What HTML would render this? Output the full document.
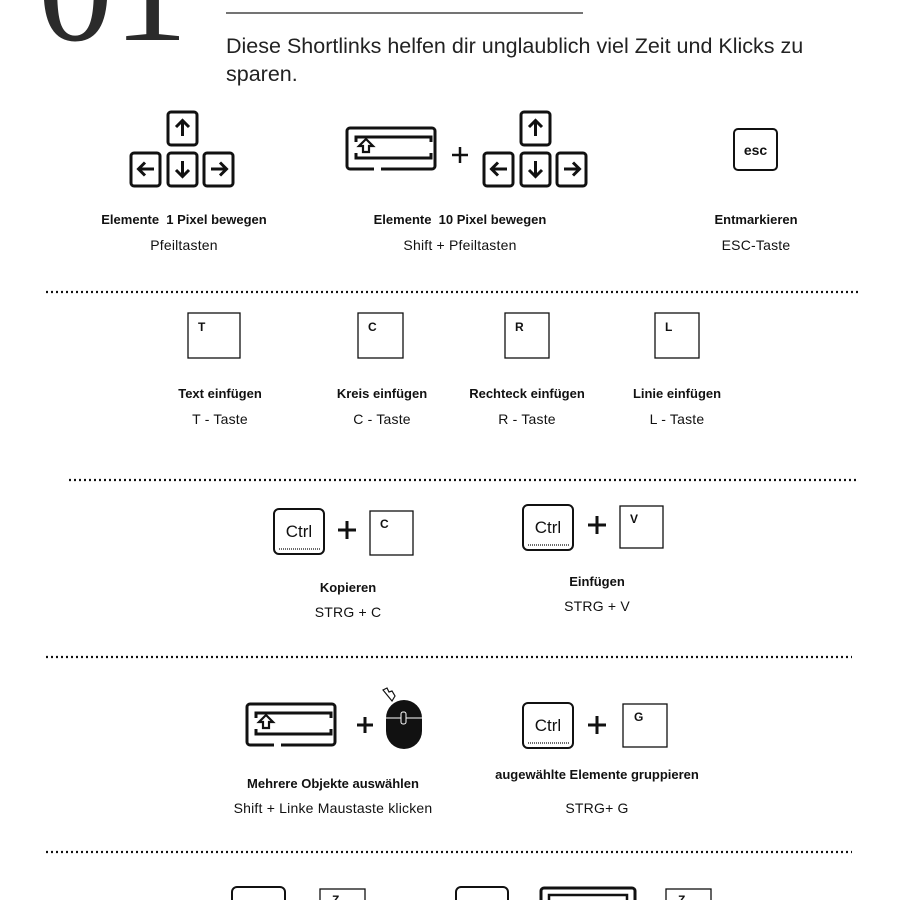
<!DOCTYPE html>
<html><head><meta charset="utf-8"><style>
html,body{margin:0;padding:0;background:#fff;}
svg{display:block;}
text{font-family:"Liberation Sans",sans-serif;fill:#111;}
.b{font-weight:bold;font-size:13px;}
.n{font-size:14px;letter-spacing:0.2px;}
.k{fill:none;stroke:#111;stroke-width:3;}
.t{fill:#fff;stroke:#111;stroke-width:1.3;}
.dot{stroke:#111;stroke-width:2.2;stroke-dasharray:2 3;}
</style></head><body>
<svg width="900" height="900" viewBox="0 0 900 900" xmlns="http://www.w3.org/2000/svg">
<text x="38" y="40" style="font-family:'Liberation Serif',serif;font-size:150px;fill:#2b2b2b;">01</text>
<line x1="226" y1="13" x2="583" y2="13" stroke="#222" stroke-width="1.2"/>
<text x="226" y="53" style="font-size:21.5px;fill:#222;">Diese Shortlinks helfen dir unglaublich viel Zeit und Klicks zu</text>
<text x="226" y="81" style="font-size:21.5px;fill:#222;">sparen.</text>

<g id="arr">
<rect class="k" x="168" y="112" width="29" height="33" rx="3"/>
<path d="M182.5 136 V121 M176 127 L182.5 120.5 L189 127" class="k" stroke-width="2.5"/>
<rect class="k" x="131" y="153" width="29" height="33" rx="3"/>
<path d="M154 169 H139 M145 162.5 L138.5 169 L145 175.5" class="k" stroke-width="2.5"/>
<rect class="k" x="168" y="153" width="29" height="33" rx="3"/>
<path d="M182.5 161 V176 M176 170 L182.5 176.5 L189 170" class="k" stroke-width="2.5"/>
<rect class="k" x="204" y="153" width="29" height="33" rx="3"/>
<path d="M211 169 H226 M220 162.5 L226.5 169 L220 175.5" class="k" stroke-width="2.5"/>
</g>
<use href="#arr" x="353" y="0"/>
<text class="b" x="184" y="224" text-anchor="middle" xml:space="preserve">Elemente  1 Pixel bewegen</text>
<text class="n" x="184" y="250" text-anchor="middle">Pfeiltasten</text>

<g id="shift">
<path d="M374 169 H350 a3 3 0 0 1 -3 -3 V131 a3 3 0 0 1 3 -3 H432 a3 3 0 0 1 3 3 V166 a3 3 0 0 1 -3 3 H381" class="k"/>
<path d="M356 142 V137 H431 V142 M356 153 V158 H431 V153" class="k" stroke-width="2.5"/>
<path d="M363 152 V146 H359 L366 139 L373 146 H369 V152 Z" fill="none" stroke="#111" stroke-width="2.2"/>
</g>
<line x1="460" y1="147" x2="460" y2="163" stroke="#111" stroke-width="2.5"/>
<line x1="452" y1="155" x2="468" y2="155" stroke="#111" stroke-width="2.5"/>
<text class="b" x="460" y="224" text-anchor="middle" xml:space="preserve">Elemente  10 Pixel bewegen</text>
<text class="n" x="460" y="250" text-anchor="middle">Shift + Pfeiltasten</text>

<rect x="734" y="129" width="43" height="41" rx="4" fill="none" stroke="#111" stroke-width="2"/>
<text x="755.5" y="155" text-anchor="middle" style="font-weight:bold;font-size:14px;">esc</text>
<text class="b" x="756" y="224" text-anchor="middle">Entmarkieren</text>
<text class="n" x="756" y="250" text-anchor="middle">ESC-Taste</text>

<line class="dot" x1="46" y1="292" x2="858" y2="292"/>

<rect class="t" x="188" y="313" width="52" height="45"/>
<text x="198" y="331" style="font-weight:bold;font-size:12px;">T</text>
<rect class="t" x="358" y="313" width="45" height="45"/>
<text x="368" y="331" style="font-weight:bold;font-size:12px;">C</text>
<rect class="t" x="505" y="313" width="44" height="45"/>
<text x="515" y="331" style="font-weight:bold;font-size:12px;">R</text>
<rect class="t" x="655" y="313" width="44" height="45"/>
<text x="665" y="331" style="font-weight:bold;font-size:12px;">L</text>
<text class="b" x="220" y="398" text-anchor="middle">Text einfügen</text>
<text class="n" x="220" y="424" text-anchor="middle">T - Taste</text>
<text class="b" x="382" y="398" text-anchor="middle">Kreis einfügen</text>
<text class="n" x="382" y="424" text-anchor="middle">C - Taste</text>
<text class="b" x="527" y="398" text-anchor="middle">Rechteck einfügen</text>
<text class="n" x="527" y="424" text-anchor="middle">R - Taste</text>
<text class="b" x="677" y="398" text-anchor="middle">Linie einfügen</text>
<text class="n" x="677" y="424" text-anchor="middle">L - Taste</text>

<line class="dot" x1="69" y1="480" x2="858" y2="480"/>

<g id="ctrl">
<rect x="274" y="509" width="50" height="45" rx="5" fill="none" stroke="#111" stroke-width="2"/>
<text x="299" y="537" text-anchor="middle" style="font-size:17px;">Ctrl</text>
<line x1="279" y1="549" x2="320" y2="549" stroke="#111" stroke-width="1.3" stroke-dasharray="1 1"/>
</g>
<line x1="347" y1="521" x2="347" y2="539" stroke="#111" stroke-width="3"/>
<line x1="338" y1="530" x2="356" y2="530" stroke="#111" stroke-width="3"/>
<rect class="t" x="370" y="511" width="43" height="44"/>
<text x="380" y="528" style="font-weight:bold;font-size:12px;">C</text>
<text class="b" x="348" y="592" text-anchor="middle">Kopieren</text>
<text class="n" x="348" y="617" text-anchor="middle">STRG + C</text>

<use href="#ctrl" x="249" y="-4"/>
<line x1="597" y1="516" x2="597" y2="534" stroke="#111" stroke-width="3"/>
<line x1="588" y1="525" x2="606" y2="525" stroke="#111" stroke-width="3"/>
<rect class="t" x="620" y="506" width="43" height="42"/>
<text x="630" y="523" style="font-weight:bold;font-size:12px;">V</text>
<text class="b" x="597" y="586" text-anchor="middle">Einfügen</text>
<text class="n" x="597" y="611" text-anchor="middle">STRG + V</text>

<line class="dot" x1="46" y1="657" x2="852" y2="657"/>

<use href="#shift" x="-100" y="576"/>
<line x1="365" y1="717" x2="365" y2="733" stroke="#111" stroke-width="3"/>
<line x1="357" y1="725" x2="373" y2="725" stroke="#111" stroke-width="3"/>
<rect x="386" y="700" width="36" height="49" rx="18" fill="#111"/>
<line x1="386" y1="718" x2="422" y2="718" stroke="#fff" stroke-width="1"/>
<rect x="401" y="712" width="5" height="12" rx="2" fill="#111" stroke="#fff" stroke-width="1"/>
<path d="M383 690 l4 -2 l2 4 l3 -1 l3 5 l-3 5 z" fill="none" stroke="#111" stroke-width="1.2"/>
<text class="b" x="333" y="788" text-anchor="middle">Mehrere Objekte auswählen</text>
<text class="n" x="333" y="813" text-anchor="middle">Shift + Linke Maustaste klicken</text>

<use href="#ctrl" x="249" y="194"/>
<line x1="597" y1="716" x2="597" y2="734" stroke="#111" stroke-width="3"/>
<line x1="588" y1="725" x2="606" y2="725" stroke="#111" stroke-width="3"/>
<rect class="t" x="623" y="704" width="44" height="43"/>
<text x="634" y="721" style="font-weight:bold;font-size:12px;">G</text>
<text class="b" x="597" y="779" text-anchor="middle">augewählte Elemente gruppieren</text>
<text class="n" x="597" y="813" text-anchor="middle">STRG+ G</text>

<line class="dot" x1="46" y1="852" x2="852" y2="852"/>

<rect x="232" y="887" width="53" height="30" rx="5" fill="none" stroke="#111" stroke-width="2"/>
<rect class="t" x="320" y="889" width="45" height="30"/>
<text x="332" y="904" style="font-weight:bold;font-size:12px;">Z</text>
<rect x="456" y="887" width="52" height="30" rx="5" fill="none" stroke="#111" stroke-width="2"/>
<rect x="541" y="888" width="94" height="30" rx="3" fill="none" stroke="#111" stroke-width="3"/>
<rect x="549" y="895" width="78" height="20" fill="none" stroke="#111" stroke-width="2.5"/>
<rect class="t" x="666" y="889" width="45" height="30"/>
<text x="678" y="904" style="font-weight:bold;font-size:12px;">Z</text>
</svg>
</body></html>
